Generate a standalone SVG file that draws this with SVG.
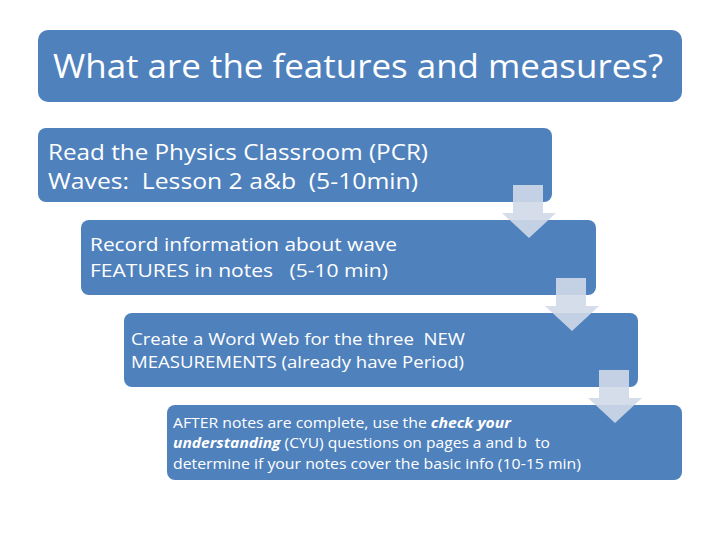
<svg xmlns="http://www.w3.org/2000/svg" width="720" height="540" viewBox="0 0 720 540">
<style>
.box{fill:#4F81BD}
.t{fill:#FFFFFF;font-family:"Open Sans","Liberation Sans",sans-serif;white-space:pre}
.arr{fill:#D0D8E8;fill-opacity:0.9}
</style>
<rect width="720" height="540" fill="#FFFFFF"/>
<g id="title">
<rect class="box" x="38" y="30" width="644" height="72" rx="10"/>
<text class="t" x="53" y="78" font-size="32" textLength="610" lengthAdjust="spacingAndGlyphs">What are the features and measures?</text>
</g>
<g id="step1">
<rect class="box" x="38" y="128" width="514" height="74" rx="8"/>
<text class="t" x="48" y="160" font-size="22" textLength="380" lengthAdjust="spacingAndGlyphs">Read the Physics Classroom (PCR)</text>
<text class="t" x="48" y="189" font-size="22" textLength="370" lengthAdjust="spacingAndGlyphs">Waves:  Lesson 2 a&amp;b  (5-10min)</text>
</g>
<g id="step2">
<rect class="box" x="81" y="220" width="515" height="75" rx="8"/>
<text class="t" x="90" y="251" font-size="19" textLength="307" lengthAdjust="spacingAndGlyphs">Record information about wave</text>
<text class="t" x="90" y="277" font-size="19" textLength="298" lengthAdjust="spacingAndGlyphs">FEATURES in notes   (5-10 min)</text>
</g>
<g id="step3">
<rect class="box" x="124" y="313" width="514" height="74" rx="8"/>
<text class="t" x="131" y="345" font-size="17" textLength="334" lengthAdjust="spacingAndGlyphs">Create a Word Web for the three  NEW</text>
<text class="t" x="131" y="368" font-size="17" textLength="333" lengthAdjust="spacingAndGlyphs">MEASUREMENTS (already have Period)</text>
</g>
<g id="step4">
<rect class="box" x="167" y="405" width="515" height="75" rx="8"/>
<text class="t" x="173" y="428" font-size="15" textLength="338" lengthAdjust="spacingAndGlyphs">AFTER notes are complete, use the <tspan font-weight="bold" font-style="italic">check your</tspan></text>
<text class="t" x="173" y="448" font-size="15" textLength="377" lengthAdjust="spacingAndGlyphs"><tspan font-weight="bold" font-style="italic">understanding</tspan> (CYU) questions on pages a and b  to</text>
<text class="t" x="173" y="469" font-size="15" textLength="408" lengthAdjust="spacingAndGlyphs">determine if your notes cover the basic info (10-15 min)</text>
</g>
<g id="connectors">
<path class="arr" d="M513,185 H543 V213 H556 L529,238 L502,213 H513 Z"/>
<path class="arr" d="M556,278 H586 V306 H599 L572,331 L545,306 H556 Z"/>
<path class="arr" d="M599,370 H629 V398 H642 L615,423 L588,398 H599 Z"/>
</g>
</svg>
